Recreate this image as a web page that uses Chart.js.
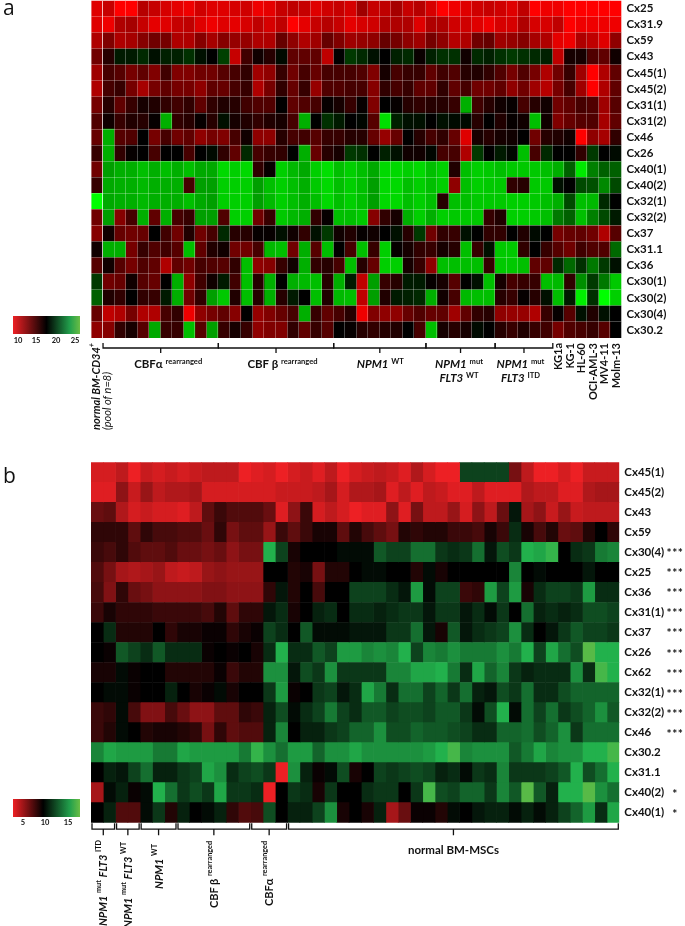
<!DOCTYPE html>
<html>
<head>
<meta charset="utf-8">
<script src="https://cdn.jsdelivr.net/npm/chart.js@4"></script>
<style>
  html, body { margin: 0; padding: 0; background: #fff; }
  #page { position: relative; width: 685px; height: 926px; overflow: hidden; font-family: Lato, sans-serif; color: #111; }
  canvas { position: absolute; left: 0; }
  .t { position: absolute; white-space: nowrap; font-weight: 700; font-size: 11.5px; line-height: 14px; }
  .c { transform: translate(-50%, -50%); text-align: center; }
  .v { writing-mode: vertical-rl; transform: translateX(-50%) rotate(180deg); font-size: 11px; line-height: 12px; }
  .panel { font-weight: 400; font-size: 21px; line-height: 21px; font-family: "Open Sans", sans-serif; }
  .tick { font-size: 7.5px; line-height: 8px; }
  .it { font-style: italic; font-weight: 400; }
  .star { font-size: 12px; letter-spacing: 0.5px; }
  sup { font-size: 0.66em; line-height: 0; vertical-align: 0.5em; }
  .bar { position: absolute; left: 13px; width: 67px; height: 18px; }
</style>
</head>
<body>
<div id="page">
  <canvas id="chartA" width="685" height="360" style="top:0"></canvas>
  <canvas id="chartB" width="685" height="390" style="top:455px"></canvas>
</div>
<script>
// panel a: BM-CD34+ / AML samples, expression values
const labelsA = ['Cx25', 'Cx31.9', 'Cx59', 'Cx43', 'Cx45(1)', 'Cx45(2)', 'Cx31(1)', 'Cx31(2)', 'Cx46', 'Cx26', 'Cx40(1)', 'Cx40(2)', 'Cx32(1)', 'Cx32(2)', 'Cx37', 'Cx31.1', 'Cx36', 'Cx30(1)', 'Cx30(2)', 'Cx30(4)', 'Cx30.2'];
const a_Cx25 = [10,10.8,9,9,11.3,10.8,10.3,9.8,9.5,10.5,10,10,10.3,10.5,9.5,9.8,10.8,11,10.8,10,10.5,10.8,10.3,12,10.8,11,11.8,10.8,11.3,10.3,9,9.5,10,10.5,10.8,10.5,10,11,9,9.5,9.5,9,9,9,9,9];
const a_Cx31_9 = [10,9.5,11.5,11.8,10.8,9.8,10,10.8,11,10,9.5,10,9.8,10.3,11,10.3,11,9,9.8,10.8,11.3,10.8,9.8,10.3,10.5,11.5,11.5,11.5,10,11.5,11.5,10.5,10.5,10,9.5,10.3,10.3,11.5,10.3,10.3,11,9,9.5,9.5,9.5,9.5];
const a_Cx59 = [11.5,13,11.5,11.8,12.8,13.5,13.3,11.5,11.5,12.8,11.8,12.8,12.3,12.3,11.5,11.5,13.8,12.5,11.5,12,13.8,13,12,12.3,12.5,13.8,13.3,12.5,12,13.3,12.5,11.3,11.5,13.5,13.8,12,12.3,12.8,11.8,11.5,9.8,9.5,11.5,11,10,12.5];
const a_Cx43 = [13.5,15.8,17.8,17.8,18.3,17.5,18,18,18.5,17.5,17,19,10.8,15,16.5,15.8,17.3,14,14,14,11,17,18.8,18.3,17.5,17,18,18.3,16.7,18,18.5,18.5,16.5,18.3,18,18.5,18.8,18.5,18.3,18,11,16.3,16.3,14.5,14,16.5];
const a_Cx45_1 = [12,14.8,14.3,13.3,14,13,15,13,13,13.5,13.5,14.3,14.8,15.5,12,12.5,15.3,13.5,14.8,13.8,14.8,14.8,14.8,14.5,13,16.3,14.8,15.3,15.3,14,15,14.5,15.8,16,15.5,14.5,13.3,14.5,13.3,11.5,13.5,15.3,12,9,11.5,14];
const a_Cx45_2 = [11.5,14.8,15.3,13.3,11.8,13.3,14,13.3,13.3,12.5,14,13.8,14.8,15.3,11.5,13.3,15.5,13.8,15.3,12.3,14.5,14.5,14.8,14.8,12.8,15.5,14.8,15.3,14,14,15.5,14,14.8,13.5,13.5,14,12.5,13.5,12,11.3,13.3,14.8,12,9,11.5,14];
const a_Cx31_1 = [13.3,15.8,14,15.3,16.3,16,15.5,15,15.5,14,15.5,16,15.8,15,14.5,14.5,17,14,14.5,14.8,16.8,16.3,15.3,16.8,13,17,16.8,15.8,15.5,15.8,15.8,15.3,22.5,15,15.8,16.5,16.8,14.8,15.8,16.5,13.5,14,14.8,14.5,12,14.3];
const a_Cx31_2 = [14.5,16.5,15.3,16,15.8,16.8,22.5,15.5,15.8,16.8,15.8,17.5,16.3,16,15.5,16,16.3,14.8,22.5,17,18.5,17.8,17,17.2,14.3,24,18,17.5,17.5,17,17.5,17.3,17.3,15.8,17,16,16.8,16.5,23,16.5,13,13.8,14.3,14.5,11.8,14];
const a_Cx46 = [13.8,22.5,14.3,14.5,17,13.3,14.8,13.5,14,12.5,13.3,13,14.8,16.5,12.5,12.5,15.8,14.8,15,14.3,15.3,15.3,15.8,15.8,13.8,12.3,13.8,17,15.8,14.8,15.5,13.8,10,16.3,15.8,16.3,16.5,17,13.5,15.8,16,16.5,9,12.5,11.8,15.5];
const a_Cx26 = [15.3,22.5,15.5,16.8,17,14.8,17,17,14.8,17,17.3,15.5,14,18.3,14.8,15.3,15.5,17,22.5,13.8,15.8,16.3,18.8,18.5,17,18,17.5,16.5,16.5,17.2,14.8,14.8,11.5,18.8,17,17.8,17.2,23,14.8,18.3,17,17,15.5,18.8,17,17.3];
const a_Cx40_1 = [13.5,22,22.5,22.5,23,22.5,23,22.5,23,22.3,22.3,23.8,23.5,23.8,15.5,16.8,23.5,22.8,22.3,23.5,24,23,23.5,23,22.3,23.8,23.8,23.5,23.8,23,23.5,16,23,23.5,23.3,23,23.3,23.3,23.3,23,22.5,20,24.3,21,20,20];
const a_Cx40_2 = [15.3,22.3,22.5,22.5,22.8,22.5,22.5,22.5,14.8,22,22,23.5,23.5,23.5,22,23,23.5,23,22.5,23.3,23.8,23,23.5,23,22,23.8,23.8,23,23.5,23,23.5,12.5,23,23.5,23.3,23.3,15.5,15.8,23.3,23.3,17.5,17,19.3,19.5,21.3,19.3];
const a_Cx32_1 = [25,22.3,22.5,22.5,22.8,22.5,22.5,22.5,23,22.3,22,23.5,23.5,23.5,22,22.8,23.5,23,22.5,23,23.8,23,23.5,23,22,23.8,23.8,23,23.5,23,15.8,23,23,23.3,23.3,23.3,23.5,23.5,23.3,23,22.5,19.3,23,22.8,18.3,17];
const a_Cx32_2 = [13.5,22,12.8,14.8,22.5,14,22.5,14.8,15.3,22,22,14.5,23.5,23.5,13.5,15.3,23.3,22.8,22.5,15.5,16.8,23,23,23.3,12.8,15.5,16.3,22.5,23.5,22.5,23.5,23.3,23.3,23.3,15.3,16,23.5,23.5,23.3,23,20.8,20,23,21,19.3,17.8];
const a_Cx37 = [12.8,16.5,13.8,13.5,13.8,17,15,13.5,16,13.5,14.8,18.3,15.8,15.8,16.8,16.8,17.5,16.5,15.5,17.5,18.8,16.5,16,16.8,16.5,17,17.5,15.8,18.8,13.5,15.5,15.3,17.5,17,15.5,15.5,17,16,17.3,17,13.3,13.8,14,13.5,11.5,14.3];
const a_Cx31_1b = [16.5,22.5,22.5,13.3,15.3,14.5,15,14.3,23,14,16,16.5,13.5,13.5,14.8,22.8,23,13.5,22.5,14.3,23,17,14.8,23,15.3,23.5,16.8,16.3,15.5,15.3,16.3,15.8,23,15.3,17.5,23.3,23.3,15.5,17,15.3,14.3,13.5,15,14.5,14.5,20.3];
const a_Cx36 = [14.3,16.5,14.3,13.3,14.5,14,11.5,14,13.5,14.8,14.5,14.3,15.5,23,12.5,12.8,15.3,16.5,22.5,15.5,15.8,14.8,23,15.8,13.8,23.5,23.5,16.3,15.3,12.5,23,23,23,23,15.3,23.3,23.3,23,14,14,18.3,20.3,18.5,20.8,18.8,17.5];
const a_Cx30_1 = [18.8,13.5,13.8,16.5,14.3,13.8,17,22.5,12.5,15,16.5,17.8,15,23,15.8,22.5,17,22.5,22.8,23,15.8,22.5,17.8,11,22,15.3,15.8,17.8,17.8,16.8,16.3,14.3,17,17.5,23,16.3,14.8,15.3,15.3,23,22.8,15.5,21.5,18.8,20.8,23.3];
const a_Cx30_2 = [20,16,15.5,17,15.5,15.3,17.8,22.5,13.5,15.5,22,23.3,16,23,15.8,22.5,15.8,17.8,17,23,16,22.8,23,11,22,16,17.8,18,18.3,22.5,16.5,14.8,22.8,23,23,15.8,15.3,16.8,15.8,17.5,23,17.8,24.5,18.5,25,23.5];
const a_Cx30_4 = [13.8,11,11.5,13.3,11.5,11.5,14.8,15.5,9.5,12.5,13.3,14,12.8,17,12.3,13,13.8,14.8,22.5,15.3,14,14.8,15.8,9.5,13,12.5,12.5,13.8,14.5,13.8,14,12,14,15.5,15.8,12.5,12.3,12.3,11.5,15.3,16.8,14.3,17.5,16,17.5,17];
const a_Cx30_2b = [12.5,12.8,15.5,16.3,14.3,22.3,15.3,15.3,23,14.3,22,15.3,16.3,15.3,12.5,13,13,15.5,14,15.3,14.3,17,16.8,15.8,15.5,15.8,16,17,14.8,23,16.3,15.8,16.3,17.3,17,15.8,15.3,16,15.3,15,13.3,14.5,14.8,15.3,14.3,17];
const rowsA = [a_Cx25, a_Cx31_9, a_Cx59, a_Cx43, a_Cx45_1, a_Cx45_2, a_Cx31_1, a_Cx31_2, a_Cx46, a_Cx26, a_Cx40_1, a_Cx40_2, a_Cx32_1, a_Cx32_2, a_Cx37, a_Cx31_1b, a_Cx36, a_Cx30_1, a_Cx30_2, a_Cx30_4, a_Cx30_2b];
const cellLines = ['KG1a', 'KG-1', 'HL-60', 'OCI-AML-3', 'MV4-11', 'Molm-13'];
const groupStartA = [1, 11, 21, 29, 35];
const groupEndA = [11, 21, 29, 35, 40];

// panel b: AML samples vs normal BM-MSCs
const labelsB = ['Cx45(1)', 'Cx45(2)', 'Cx43', 'Cx59', 'Cx30(4)', 'Cx25', 'Cx36', 'Cx31(1)', 'Cx37', 'Cx26', 'Cx62', 'Cx32(1)', 'Cx32(2)', 'Cx46', 'Cx30.2', 'Cx31.1', 'Cx40(2)', 'Cx40(1)'];
const starsB = ['', '', '', '', '***', '***', '***', '***', '***', '***', '***', '***', '***', '***', '', '', '*', '*'];
const b_Cx45_1 = [3.7,3.7,4.4,3,4.1,3.7,4.1,3.7,4.1,4.4,4.4,4.4,3,3.4,3.7,3,3.7,4.1,3.4,4.4,3,3.7,4.1,4.4,4.1,3.4,4.8,3.7,3,3,12.4,12.4,12.4,12.4,6.5,4.4,3,3,3.7,3,4.1,4.1,4.1];
const b_Cx45_2 = [3.4,3.4,5.8,4.1,5.5,4.4,4.8,4.8,5.1,3.7,3.7,3.7,3.7,3.7,3.7,4.1,4.1,4.1,4.4,5.1,3.7,4.8,4.8,5.1,3.4,4.4,3.4,4.4,4.1,3.4,3.4,4.4,3.4,3.4,3.4,4.8,4.4,4.4,3.4,3.4,4.8,5.1,5.1];
const b_Cx43 = [6.9,7.2,4.8,3.7,4.1,3.7,3.7,3.4,4.4,7.2,8.3,7.6,7.6,7.6,6.9,3.4,5.8,8.3,3.7,4.4,3.7,3,3.4,3.4,5.8,3.4,6.5,4.4,4.4,5.5,3.7,5.8,4.4,6.9,10.8,5.1,5.8,4.1,5.5,4.1,4.4,4.4,4.4];
const b_Cx59 = [8.6,8.6,8.6,7.2,8.6,7.9,7.9,7.6,7.6,6.9,8.6,6.5,7.2,7.2,5.5,8.3,7.2,8.3,9.3,9.3,7.2,9,7.9,7.2,6.5,9,8.6,9,9,8.3,8.3,7.9,9.3,8.3,11.6,9.3,7.9,9,6.9,7.2,9,10,8.6];
const b_Cx30_4 = [8.3,7.9,8.6,7.6,7.2,7.2,7.6,6.9,6.9,6.5,6.9,5.8,6.5,6.5,16.4,12.4,9.3,10,10,10,10.4,10.4,10.4,13.2,12.4,12.4,14,14,12,11.6,12,14,10.8,12.8,12,16.4,16,16.8,10,11.6,12,14.4,14.8];
const b_Cx25 = [7.6,6.5,5.1,4.8,5.1,5.5,4.4,4.1,4.4,5.5,5.8,5.5,5.5,5.5,10,10,9,9.3,6.5,9,9,10,10.4,10.4,10,10,9,10.4,9.3,10,10,10,10,10,14.8,10,10.4,10,10,10,10.8,10,10];
const b_Cx36 = [7.9,6.2,8.6,6.9,6.5,5.8,5.8,5.8,5.8,6.2,6.2,5.8,5.8,5.8,8.6,10.8,9,10,7.9,10,10,12.4,12.4,12.4,11.6,10.8,15.6,10.4,12.4,12.4,8.3,8.6,15.6,12.4,15.6,9.3,11.6,12.4,12.4,12,15.6,11.6,11.6];
const b_Cx31_1 = [8.3,9.3,8.6,8.6,8.6,8.3,8.3,8.3,8.3,7.9,9,7.2,8.6,8.6,10.8,11.6,9.3,10,11.2,11.6,10,11.6,11.6,11.2,11.6,12,12,10.8,12,12,10.8,11.6,10.4,12,10,14,11.2,11.6,11.2,11.6,12.8,12.8,12.4];
const b_Cx37 = [10,11.6,9,9,9,10,8.6,9.3,9.3,9.7,9.7,8.6,9.3,9.7,12.4,11.6,10,13.2,10.4,10.4,10.4,10.8,10.8,10.8,12,12,14,10.8,9.3,13.2,10.8,11.6,12,12.4,15.2,11.6,10,10.8,12,13.2,12.4,12.4,12];
const b_Cx26 = [10,9.7,13.2,12.4,11.6,13.2,11.6,11.6,11.6,9.7,10,9.7,10,9.3,11.6,16.4,11.6,11.6,13.2,12.4,15.6,15.6,14.8,15.2,14.8,16.4,12.4,14.8,14.4,15.2,14.4,14.4,14.4,15.2,14.4,16.4,12.4,16,14,12.8,17.6,16.4,16.4];
const b_Cx62 = [9.3,9.3,10.4,9.7,10,10,9,9,9,9,9.7,8.3,9,9,15.2,15.2,10.8,12.8,12,15.2,12,12,12,12,14.8,14.8,16,16,16.4,14.4,11.6,16,13.6,14.8,12,11.2,11.6,11.6,11.6,15.2,11.6,17.2,16.4];
const b_Cx32_1 = [10,10.4,10.4,9.7,10,10,11.2,10,9.3,9.7,10.4,9.3,10,10,12,15.6,9.7,10,12,12.4,10.8,11.6,16,14.4,11.6,14,14,12.4,13.6,12,14,11.2,10.8,12.8,12,14,11.6,11.6,12.8,13.6,13.6,13.6,13.6];
const b_Cx32_2 = [8.3,8.6,10.4,7.9,6.2,6.2,7.9,6.9,5.8,5.8,7.2,7.2,8.6,8.3,11.2,12.8,10.4,11.6,12.4,14.4,12.4,11.6,13.2,13.2,12.4,12.8,12.8,12.4,13.2,13.2,12,10.4,12.8,16.4,10.4,14,12.4,14,12,12.8,13.6,15.2,13.2];
const b_Cx46 = [8.3,9,10.4,10,9,9.3,9.3,9,8.6,6.5,8.6,7.2,7.6,7.6,11.2,14.8,10,11.2,11.2,12,12.4,13.6,13.6,15.2,12.8,12.8,13.6,13.2,13.2,12.8,12.4,11.6,11.6,13.6,13.6,14,12.8,13.6,15.2,12,14,14,14];
const b_Cx30_2 = [14.8,16,15.6,15.6,15.6,14.4,14.4,16,15.6,15.6,15.6,15.6,14.4,16.8,15.2,14,15.6,15.6,13.6,15.2,15.2,16,15.2,15.2,15.2,15.2,15.2,15.6,16.4,17.2,14.8,15.2,15.2,15.2,13.2,14.4,16,14.8,15.2,15.2,16.4,16.4,17.2];
const b_Cx31_1b = [10,11.2,10.8,12.4,14,11.2,11.2,12,12.4,16,15.2,11.6,12.4,12.8,12,3,15.2,11.2,9.7,10.4,12.8,9.3,10,12.4,12,12.4,12.8,12.4,11.2,11.6,10.4,12,11.6,14.8,12,12,12,12.4,13.2,16.4,12.8,14,16.4];
const b_Cx40_2 = [5.1,10.4,11.2,9.7,10.4,16.4,14,12,12.8,12,16,12,12,11.6,3,10,12,11.6,9.3,12,10,10,11.6,12,12,10,12,17.2,12.8,12.4,13.6,13.6,12,14.8,13.2,17.6,13.2,11.2,16.4,16.4,17.6,15.2,14];
const b_Cx40_1 = [10,11.2,7.6,7.6,10.4,12,9,11.2,10,10.4,11.2,8.6,7.6,7.9,12.8,10,11.2,11.2,12.4,15.2,9.3,10,9.3,11.2,5.1,6.9,9.7,9.7,9,10.4,10,10.8,11.2,11.2,10.4,11.2,10.4,11.2,12.4,13.6,15.6,11.6,16];
const rowsB = [b_Cx45_1, b_Cx45_2, b_Cx43, b_Cx59, b_Cx30_4, b_Cx25, b_Cx36, b_Cx31_1, b_Cx37, b_Cx26, b_Cx62, b_Cx32_1, b_Cx32_2, b_Cx46, b_Cx30_2, b_Cx31_1b, b_Cx40_2, b_Cx40_1];
const groupStartB = [0, 2, 4, 7, 13, 16];
const groupEndB = [2, 4, 7, 13, 16, 43];

// colour scales, black in the middle
function colorA(v) {
  const t = (v - 17) / 8;
  const c = Math.round(Math.min(1, Math.abs(t)) * 255);
  return t < 0 ? `rgb(${c},0,0)` : `rgb(0,${c},0)`;
}
function colorB(v) {
  if (v < 10) {
    const t = Math.min(1, (10 - v) / 7);
    return `rgb(${Math.round(237 * t)},${Math.round(32 * t)},${Math.round(36 * t)})`;
  }
  const t = Math.min(1, (v - 10) / 8);
  if (t < 0.8) {
    const k = t / 0.8;
    return `rgb(${Math.round(34 * k)},${Math.round(177 * k)},${Math.round(76 * k)})`;
  }
  const k = (t - 0.8) / 0.2;
  return `rgb(${Math.round(34 + 72 * k)},${Math.round(177 + 12 * k)},${Math.round(76 - 7 * k)})`;
}

// one stacked dataset per column, each cell is one unit wide
function heatmap(id, labels, rows, colorOf, gridColor, bottomPad, plugin) {
  const nCols = rows[0].length;
  const datasets = [];
  for (let j = 0; j < nCols; j++) {
    datasets.push({
      data: rows.map(() => 1),
      backgroundColor: rows.map(r => colorOf(r[j])),
      borderWidth: 0,
      barPercentage: 1,
      categoryPercentage: 1,
    });
  }
  return new Chart(document.getElementById(id), {
    type: 'bar',
    data: { labels: labels, datasets: datasets },
    plugins: [plugin],
    options: {
      indexAxis: 'y',
      responsive: false,
      animation: false,
      devicePixelRatio: 1,
      layout: { padding: { left: 91, top: id === 'chartA' ? 0.5 : 7.3, bottom: bottomPad, right: 0 } },
      plugins: { legend: { display: false }, tooltip: { enabled: false } },
      scales: {
        x: {
          stacked: true,
          min: 0,
          max: nCols,
          ticks: { display: false, stepSize: 1, autoSkip: false, maxTicksLimit: 100 },
          border: { display: false },
          grid: {
            display: !!gridColor,
            z: 1,
            drawTicks: false,
            lineWidth: 1,
            color: c => (c.tick && c.tick.value === 1 ? 'rgba(255,255,255,0.72)' : gridColor),
          },
        },
        y: {
          position: 'right',
          stacked: true,
          afterFit: s => {
            s.width = id === 'chartA' ? 63.5 : 65.7;
            // labels may overhang the plot, the plot must not shrink for them
            s.paddingTop = 0;
            s.paddingBottom = 0;
          },
          ticks: { autoSkip: false, padding: 5, color: '#111', font: { family: 'Lato', weight: '700', size: 11.5 } },
          border: { display: false },
          grid: { display: !!gridColor, z: 1, drawTicks: false, lineWidth: 1, color: gridColor || 'transparent' },
        },
      },
    },
  });
}

// brackets under the heat maps
function bracketsA(starts, ends) {
  return {
    id: 'bracketsA',
    afterDraw(chart) {
      const c = chart.ctx, x = chart.scales.x, top = chart.chartArea.bottom + 5;
      c.save();
      c.strokeStyle = '#111';
      c.lineWidth = 1.3;
      starts.forEach((s, i) => {
        const x0 = x.getPixelForValue(s) + 0.5, x1 = x.getPixelForValue(ends[i]) + 0.5, m = (x0 + x1) / 2;
        c.beginPath();
        c.moveTo(x0, top); c.lineTo(x0, top + 5); c.lineTo(x1, top + 5); c.lineTo(x1, top);
        c.moveTo(m, top + 5); c.lineTo(m, top + 10);
        c.stroke();
      });
      c.restore();
    },
  };
}
function bracketsB(starts, ends) {
  return {
    id: 'bracketsB',
    afterDraw(chart) {
      const c = chart.ctx, x = chart.scales.x, top = chart.chartArea.bottom + 0.5;
      c.save();
      c.strokeStyle = '#111';
      c.lineWidth = 1.3;
      starts.forEach((s, i) => {
        const x0 = x.getPixelForValue(s) + 1, x1 = x.getPixelForValue(ends[i]) - 1, m = (x0 + x1) / 2;
        c.beginPath();
        c.moveTo(x0, top); c.lineTo(x0, top + 6); c.lineTo(x1, top + 6); c.lineTo(x1, top);
        c.moveTo(m, top + 6); c.lineTo(m, top + 12);
        c.stroke();
      });
      c.restore();
    },
  };
}

const chartA = heatmap('chartA', labelsA, rowsA, colorA, 'rgba(255,255,255,0.28)', 22, bracketsA(groupStartA, groupEndA));
const chartB = heatmap('chartB', labelsB, rowsB, colorB, null, 22.3, bracketsB(groupStartB, groupEndB));

// real text around the charts
const page = document.getElementById('page');
function addText(html, x, y, cls) {
  const el = document.createElement('div');
  el.className = 't ' + (cls || 'c');
  el.innerHTML = html;
  el.style.left = x + 'px';
  el.style.top = y + 'px';
  page.appendChild(el);
  return el;
}
function legendBar(y, css) {
  const el = document.createElement('div');
  el.className = 'bar';
  el.style.top = y + 'px';
  el.style.background = css;
  page.appendChild(el);
}

addText('a', 3, -3, 'panel');
addText('b', 3, 465, 'panel');

legendBar(316, 'linear-gradient(90deg,#ed2024,#000 50%,#22a04c 85%,#6abd45)');
[['10', 18], ['15', 36], ['20', 56], ['25', 75]].forEach(p => addText(p[0], p[1], 341, 'c tick'));
legendBar(799, 'linear-gradient(90deg,#ed2024,#000 45%,#22a04c 85%,#6abd45)');
[['5', 23], ['10', 45], ['15', 68]].forEach(p => addText(p[0], p[1], 823, 'c tick'));

// panel a group labels
const xA = chartA.scales.x;
const midA = (i) => (xA.getPixelForValue(groupStartA[i]) + xA.getPixelForValue(groupEndA[i])) / 2;
addText('CBFα <sup>rearranged</sup>', midA(0) + 8, 364);
addText('CBF β <sup>rearranged</sup>', midA(1) + 7, 364);
addText('<i>NPM1</i> <sup>WT</sup>', midA(2) + 1, 364);
addText('<i>NPM1</i> <sup>mut</sup><br><i>FLT3</i> <sup>WT</sup>', midA(3) - 1, 371);
addText('<i>NPM1</i> <sup>mut</sup><br><i>FLT3</i> <sup>ITD</sup>', midA(4) - 3, 371);
addText('<i>normal BM-CD34<sup>+</sup></i>', 96, 343, 'v');
addText('<span class="it">(pool of n=8)</span>', 107, 372, 'v');
cellLines.forEach((name, i) => addText(name, xA.getPixelForValue(40.5 + i), 343, 'v'));

// panel b group labels
const xB = chartB.scales.x, yB = chartB.scales.y;
const midB = (i) => (xB.getPixelForValue(groupStartB[i]) + xB.getPixelForValue(groupEndB[i])) / 2;
addText('<i>NPM1</i> <sup>mut</sup> <i>FLT3</i> <sup>ITD</sup>', midB(0), 840, 'v');
addText('<i>NPM1</i> <sup>mut</sup> <i>FLT3</i> <sup>WT</sup>', midB(1), 842, 'v');
addText('<i>NPM1</i> <sup>WT</sup>', midB(2), 844, 'v');
addText('CBF β <sup>rearranged</sup>', midB(3), 841, 'v');
addText('CBFα <sup>rearranged</sup>', midB(4), 841, 'v');
addText('normal BM-MSCs', midB(5), 850);
starsB.forEach((s, i) => {
  if (s) addText(s, 675, 455 + yB.getPixelForValue(i) + 1, 'c star');
});
</script>
</body>
</html>
